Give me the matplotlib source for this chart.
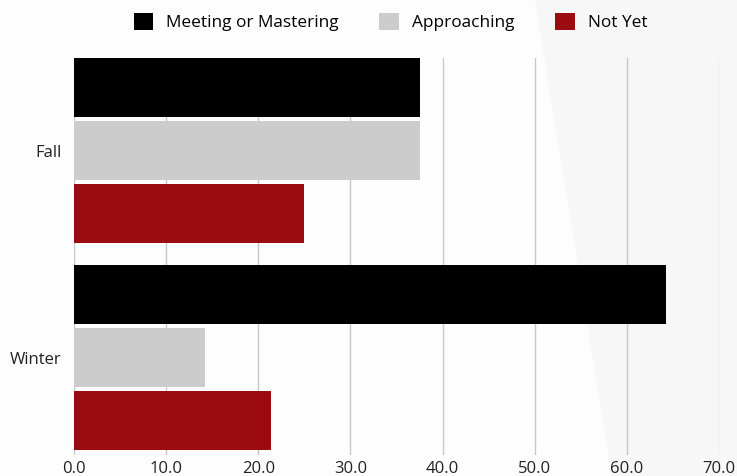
import matplotlib.pyplot as plt
from matplotlib.patches import Polygon
import numpy as np

plt.rcParams['font.family'] = ['Open Sans', 'DejaVu Sans']

categories = ['Fall', 'Winter']
series = ['Meeting or Mastering', 'Approaching', 'Not Yet']
values = {
    'Meeting or Mastering': [37.5, 64.3],
    'Approaching': [37.5, 14.2],
    'Not Yet': [25.0, 21.4],
}
colors = ['#000000', '#cccccc', '#9b0b10']
xticks = [0, 10, 20, 30, 40, 50, 60, 70]

fig = plt.figure(figsize=(7.37, 4.76), dpi=100)
fig.patch.set_facecolor('#fdfdfd')
# faint shaded panel on the right side of the background
fig.patches.append(Polygon([(535 / 737, 1), (1, 1), (1, 0), (612 / 737, 0)],
                           closed=True, transform=fig.transFigure,
                           facecolor='#f7f7f7', edgecolor='none', zorder=-5))

ax = fig.add_axes([74 / 737, 1 - 455 / 476, 645 / 737, 397 / 476])
ax.set_facecolor('none')

y = np.arange(len(categories))
step = 63 / 207
height = 59 / 207
for i, (name, color) in enumerate(zip(series, colors)):
    ax.barh(y + (i - 1) * step, values[name], height=height, color=color,
            label=name, zorder=3)

ax.set_xlim(0, 70)
ax.set_ylim(1 + 97 / 207, -93 / 207)
ax.set_xticks(xticks)
ax.set_xticklabels([f'{t:.1f}' for t in xticks], fontsize=12, color='#222222')
ax.set_yticks(y)
ax.set_yticklabels(categories, fontsize=12, color='#222222')
ax.tick_params(axis='both', length=0)
ax.tick_params(axis='x', pad=4)
ax.tick_params(axis='y', pad=9)
ax.grid(axis='x', color='#c8c8c8', linewidth=1, zorder=0)
for s in ax.spines.values():
    s.set_visible(False)

fig.legend(loc='center', bbox_to_anchor=(0.53, 0.954), ncol=3, frameon=False,
           fontsize=12.4, handlelength=1.15, handleheight=1.2,
           handletextpad=0.75, columnspacing=2.35)

fig.savefig('out.png', dpi=100, facecolor=fig.get_facecolor())
